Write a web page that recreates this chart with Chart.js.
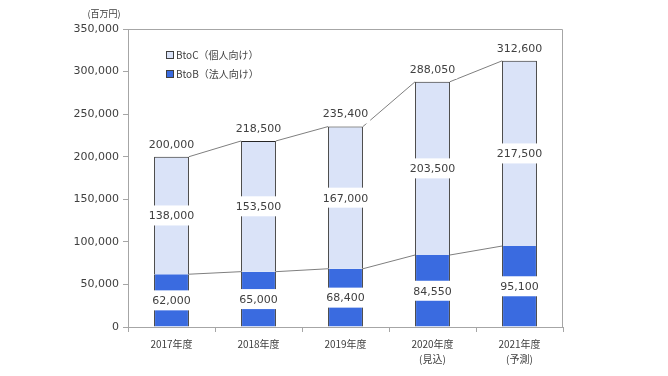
<!DOCTYPE html>
<html>
<head>
<meta charset="utf-8">
<script src="https://cdn.jsdelivr.net/npm/chart.js@4/dist/chart.umd.min.js"></script>
<style>
  html, body { margin: 0; padding: 0; background: #fff; }
</style>
</head>
<body>
<canvas id="grafico" width="668" height="376"></canvas>
<script>
// 年度ごとの市場規模 (百万円)
const years = [['2017年度'], ['2018年度'], ['2019年度'], ['2020年度', '(見込)'], ['2021年度', '(予測)']]
const btob = [62000, 65000, 68400, 84550, 95100]
const btoc = [138000, 153500, 167000, 203500, 217500]
const totals = [200000, 218500, 235400, 288050, 312600]
const seriesNames = ['BtoB（法人向け）', 'BtoC（個人向け）']
const yMax = 350000
const yStep = 50000

const textColor = '#404040'
const numFont = '11px "DejaVu Sans"'
const fmt = v => v.toLocaleString('en-US')

// 棒の中と上のラベル、系列線、凡例
const extras = {
    id: 'extras',
    afterDatasetsDraw(chart) {
        const ctx = chart.ctx
        const metaB = chart.getDatasetMeta(0)
        const metaC = chart.getDatasetMeta(1)
        const area = chart.chartArea

        ctx.save()
        // 枠 (上と右)
        ctx.strokeStyle = '#a6a6a6'
        ctx.lineWidth = 1
        ctx.beginPath()
        ctx.moveTo(area.left, area.top + 0.5)
        ctx.lineTo(area.right - 0.5, area.top + 0.5)
        ctx.lineTo(area.right - 0.5, area.bottom)
        ctx.stroke()

        // 系列線
        ctx.strokeStyle = '#7f7f7f'
        for (let i = 0; i < years.length - 1; i++) {
            [metaB, metaC].forEach(m => {
                const a = m.data[i], b = m.data[i + 1]
                ctx.beginPath()
                ctx.moveTo(a.x + a.width / 2, a.y)
                ctx.lineTo(b.x - b.width / 2, b.y)
                ctx.stroke()
            })
        }

        // ラベル
        ctx.font = numFont
        ctx.textAlign = 'center'
        ctx.textBaseline = 'middle'
        const label = (text, x, y) => {
            const w = ctx.measureText(text).width + 4
            ctx.fillStyle = '#fff'
            ctx.fillRect(x - w / 2, y - 10, w, 20)
            ctx.fillStyle = textColor
            ctx.fillText(text, x, y + 1)
        }
        for (let i = 0; i < years.length; i++) {
            const b = metaB.data[i], c = metaC.data[i]
            label(fmt(btob[i]), b.x, (b.y + b.base) / 2)
            label(fmt(btoc[i]), c.x, (c.y + c.base) / 2)
            label(fmt(totals[i]), c.x, c.y - 13)
        }

        // 凡例
        ctx.font = '10px "Noto Sans CJK JP"'
        ctx.textAlign = 'left'
        const items = [[1, 55], [0, 74]]
        items.forEach(([d, y]) => {
            const ds = chart.data.datasets[d]
            ctx.fillStyle = ds.backgroundColor
            ctx.fillRect(167, y - 3, 6, 6)
            ctx.strokeStyle = '#404040'
            ctx.strokeRect(166.5, y - 3.5, 7, 7)
            ctx.fillStyle = textColor
            ctx.fillText(ds.label, 176, y)
        })

        // 単位
        ctx.textAlign = 'center'
        ctx.font = '9px "Noto Sans CJK JP"'
        ctx.fillText('(百万円)', 104, 14)
        ctx.restore()
    }
}

const ctx = document.getElementById('grafico').getContext('2d')

const chartGraph = new Chart(ctx, {
    type: 'bar',
    data: {
        labels: years,
        datasets: [{
            label: seriesNames[0],
            data: btob,
            backgroundColor: '#3a6be0',
            borderColor: '#262626',
            borderWidth: { left: 1, right: 1, top: 0, bottom: 0 },
            borderSkipped: false
        }, {
            label: seriesNames[1],
            data: btoc,
            backgroundColor: '#dae3f8',
            borderColor: '#262626',
            borderWidth: { left: 1, right: 1, top: 1, bottom: 0 },
            borderSkipped: false
        }]
    },
    options: {
        responsive: false,
        animation: false,
        layout: { padding: { left: 0, right: 105, top: 29, bottom: 0 } },
        datasets: { bar: { barPercentage: 0.4, categoryPercentage: 1 } },
        plugins: {
            legend: { display: false },
            tooltip: { enabled: false }
        },
        scales: {
            x: {
                stacked: true,
                grid: { drawOnChartArea: false, tickLength: 5, color: '#a6a6a6', offset: true },
                border: { color: '#a6a6a6' },
                ticks: {
                    color: textColor,
                    font: { family: '"Noto Sans CJK JP"', size: 10, lineHeight: 1.5 },
                    padding: 5,
                    maxRotation: 0,
                    autoSkip: false
                },
                afterFit: s => { s.height = 49 }
            },
            y: {
                stacked: true,
                min: 0,
                max: yMax,
                grid: { drawOnChartArea: false, tickLength: 5, color: '#a6a6a6' },
                border: { color: '#a6a6a6' },
                ticks: {
                    stepSize: yStep,
                    color: textColor,
                    font: { family: '"DejaVu Sans"', size: 11 },
                    padding: 4,
                    callback: v => fmt(v)
                },
                afterFit: s => { s.width = 128 }
            }
        }
    },
    plugins: [extras]
})
</script>
</body>
</html>
